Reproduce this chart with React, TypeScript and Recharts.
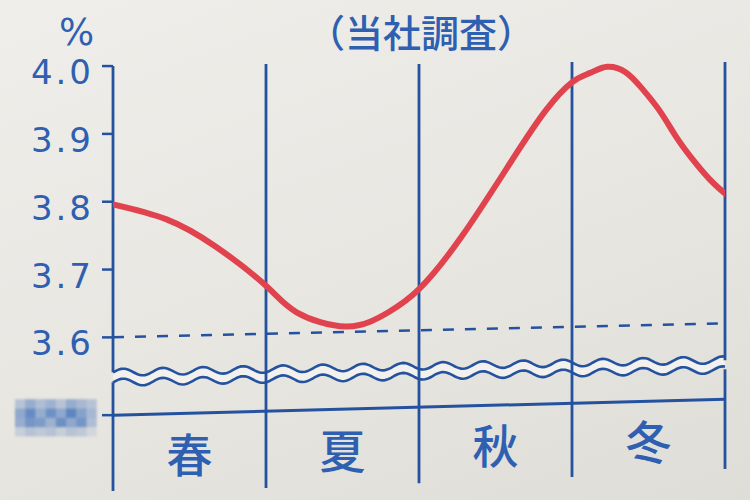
import React from "react";
import { LineChart, Line, XAxis, YAxis, ReferenceLine } from "recharts";

const BLUE = "#25529f";
const TEXT_BLUE = "#2f5fb1";
const RED = "#e1434e";

const seasons = ["春", "夏", "秋", "冬"];
const seasonTicks = [0.5, 1.5, 2.5, 3.5];
const valueTicks = [3.6, 3.7, 3.8, 3.9, 4.0];

// position along the year (0 = start of spring, 4 = end of winter) and fat %
const curveX = [0, 0.35, 0.67, 1, 1.2, 1.53, 1.8, 2, 2.28, 2.61, 2.83, 3, 3.12, 3.23, 3.35, 3.45, 3.57, 3.68, 3.79, 3.9, 4];
const curveY = [3.796, 3.774, 3.734, 3.676, 3.637, 3.616, 3.637, 3.671, 3.749, 3.862, 3.935, 3.976, 3.99, 3.999, 3.991, 3.969, 3.935, 3.896, 3.862, 3.833, 3.812];

// season divider lines (the card is photographed slightly tilted)
const dividerX = [0, 1, 2, 3, 4];
const dividerTop = [4.0, 4.003, 4.003, 4.006, 4.006];
const dividerBottom = [3.3735, 3.378, 3.385, 3.394, 3.406];

// left / right ends
const dashedLine = [3.6, 3.6206];
const baseLine = [3.4853, 3.5088];
const waveMid = [3.541, 3.5595];
const breakTop = [3.5485, 3.5662];
const breakBottom = [3.5338, 3.5529];

const mosaic = [
  [0.3, 0.5, 0.35, 0.45, 0.3, 0.5, 0.4, 0.3],
  [0.55, 0.8, 0.5, 0.75, 0.55, 0.85, 0.6, 0.4],
  [0.5, 0.7, 0.65, 0.45, 0.75, 0.55, 0.7, 0.35],
  [0.2, 0.3, 0.25, 0.3, 0.2, 0.3, 0.25, 0.12],
];

const data = curveX.map((x, i) => ({ x, fat: curveY[i] }));

const WAVE_PERIOD = 40;
const WAVE_AMP = 3.5;
const WAVE_GAP = 5;

function WaveBand(props: any) {
  const { x1, y1, x2, y2 } = props;
  const n = Math.ceil((x2 - x1) / 2);
  const top: string[] = [];
  const bot: string[] = [];
  for (let i = 0; i <= n; i++) {
    const t = i / n;
    const x = x1 + (x2 - x1) * t;
    const yc = y1 + (y2 - y1) * t;
    const w = -WAVE_AMP * Math.sin(((x - x1) / WAVE_PERIOD) * 2 * Math.PI);
    top.push(`${x.toFixed(1)},${(yc - WAVE_GAP + w).toFixed(1)}`);
    bot.push(`${x.toFixed(1)},${(yc + WAVE_GAP + w).toFixed(1)}`);
  }
  const fill = "M" + top.join("L") + "L" + [...bot].reverse().join("L") + "Z";
  return (
    <g>
      <path d={fill} fill="#f2f1ed" stroke="none" />
      <path d={"M" + top.join("L")} fill="none" stroke={BLUE} strokeWidth={2.6} />
      <path d={"M" + bot.join("L")} fill="none" stroke={BLUE} strokeWidth={2.6} />
    </g>
  );
}

function ValueTick(props: any) {
  const { x, y, payload } = props;
  if (payload.value === baseLine[0]) {
    return (
      <g style={{ filter: "blur(1.2px)" }}>
        {mosaic.map((row, r) =>
          row.map((v, c) => (
            <rect
              key={`${r}-${c}`}
              x={15 + c * 10.2}
              y={y - 16 + r * 9.3}
              width={10.3}
              height={9.4}
              fill="#4574bb"
              fillOpacity={v}
            />
          ))
        )}
      </g>
    );
  }
  return (
    <text
      x={x - 6}
      y={y + 18}
      textAnchor="end"
      fill={TEXT_BLUE}
      fontFamily="DejaVu Sans"
      fontSize={34}
      letterSpacing={3}
    >
      {payload.value.toFixed(1)}
    </text>
  );
}

function SeasonTick(props: any) {
  const { x, y, payload } = props;
  const i = Math.floor(payload.value);
  return (
    <text
      x={x}
      y={y - 39 - i * 4.5}
      textAnchor="middle"
      dominantBaseline="central"
      fill={TEXT_BLUE}
      fontFamily="'Noto Sans CJK JP'"
      fontWeight={500}
      fontSize={46}
    >
      {seasons[i]}
    </text>
  );
}

export default function App() {
  return (
    <div
      style={{
        position: "relative",
        width: 750,
        height: 500,
        background: "linear-gradient(160deg, #efeeea 0%, #e8e6e1 55%, #dfddd8 100%)",
      }}
    >
      <style>{`body{margin:0}`}</style>
      <LineChart width={750} height={500} data={data} margin={{ top: 62, right: 25, bottom: 8, left: 0 }}>
        <XAxis
          dataKey="x"
          type="number"
          domain={[0, 4]}
          ticks={seasonTicks}
          tick={SeasonTick}
          axisLine={false}
          tickLine={false}
          tickSize={0}
          tickMargin={0}
          height={1}
          interval={0}
          allowDataOverflow
        />
        <YAxis
          type="number"
          domain={[3.3735, 4.006]}
          ticks={[baseLine[0], ...valueTicks]}
          tick={ValueTick}
          width={113}
          tickSize={11}
          tickLine={{ stroke: BLUE, strokeWidth: 2.5 }}
          axisLine={false}
          interval={0}
          allowDataOverflow
        />
        <ReferenceLine
          segment={[
            { x: 0, y: waveMid[0] },
            { x: 4, y: waveMid[1] },
          ]}
          shape={(p: any) => <WaveBand {...p} />}
        />
        <ReferenceLine
          segment={[
            { x: 0, y: dashedLine[0] },
            { x: 4, y: dashedLine[1] },
          ]}
          stroke={BLUE}
          strokeWidth={2.5}
          strokeDasharray="11 11"
        />
        <ReferenceLine
          segment={[
            { x: 0, y: baseLine[0] },
            { x: 4, y: baseLine[1] },
          ]}
          stroke={BLUE}
          strokeWidth={3}
        />
        {dividerX.map((k, i) => {
          const edge = i === 0 || i === dividerX.length - 1;
          if (!edge) {
            return (
              <ReferenceLine
                key={`d${k}`}
                segment={[
                  { x: k, y: dividerTop[i] },
                  { x: k, y: dividerBottom[i] },
                ]}
                stroke={BLUE}
                strokeWidth={2.8}
              />
            );
          }
          const side = i === 0 ? 0 : 1;
          return (
            <React.Fragment key={`d${k}`}>
              <ReferenceLine
                segment={[
                  { x: k, y: dividerTop[i] },
                  { x: k, y: breakTop[side] },
                ]}
                stroke={BLUE}
                strokeWidth={2.8}
              />
              <ReferenceLine
                segment={[
                  { x: k, y: breakBottom[side] },
                  { x: k, y: dividerBottom[i] },
                ]}
                stroke={BLUE}
                strokeWidth={2.8}
              />
            </React.Fragment>
          );
        })}
        <Line
          dataKey="fat"
          type="natural"
          stroke={RED}
          strokeWidth={6}
          strokeLinecap="round"
          dot={false}
          activeDot={false}
          isAnimationActive={false}
        />
      </LineChart>
      <svg
        width={750}
        height={500}
        style={{ position: "absolute", left: 0, top: 0, pointerEvents: "none" }}
      >
        <text x={59} y={45} fill={TEXT_BLUE} fontFamily="DejaVu Sans" fontSize={37}>
          %
        </text>
        <text
          x={307}
          y={30}
          dominantBaseline="central"
          fill={TEXT_BLUE}
          fontFamily="'Noto Sans CJK JP'"
          fontWeight={500}
          fontSize={38}
        >
          （当社調査）
        </text>
      </svg>
    </div>
  );
}
